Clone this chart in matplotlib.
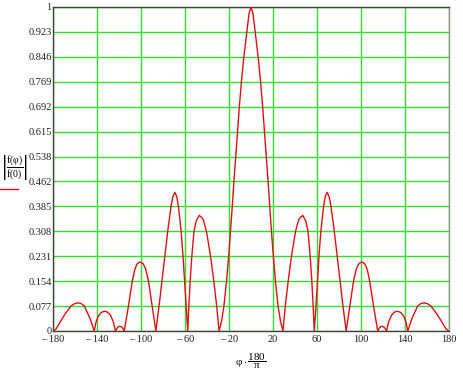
import matplotlib.pyplot as plt

plt.rcParams['font.family'] = ['Liberation Serif', 'DejaVu Serif']
plt.rcParams['mathtext.fontset'] = 'custom'
plt.rcParams['mathtext.rm'] = 'Liberation Serif'
plt.rcParams['mathtext.it'] = 'Liberation Serif:italic'

# angle in degrees (phi*180/pi) and normalised pattern |f(phi)/f(0)|
phi_deg = [
    -180.0, -177.5, -173.5, -168.5, -163.6, -160.5, -157.5, -154.5, -151.5, -146.5,
    -142.5, -141.0, -139.0, -136.2, -133.4, -130.8, -128.0, -125.3,
    -123.2, -121.3, -119.3, -117.0,
    -115.2, -111.4, -107.9, -105.8, -103.6, -101.0, -98.3, -95.8, -93.2, -89.8,
    -86.5, -83.6, -81.0, -78.4, -75.7, -72.7, -71.0, -69.2, -67.5, -66.0, -63.5, -61.8, -60.4, -59.1,
    -57.5, -56.5, -55.3, -53.8, -51.8, -49.8, -47.0, -43.5, -40.5, -36.8, -33.8, -31.2,
    -29.0, -26.8, -24.6, -22.2, -20.3, -18.6, -17.0, -15.5, -13.9, -12.3, -10.6, -8.7, -6.5, -3.8, -1.8,
    0.0,
    1.8, 3.8, 6.5, 8.7, 10.6, 12.3, 13.9, 15.5, 17.0, 18.6, 20.3, 22.2, 24.6, 26.8,
    29.0, 31.2, 33.8, 36.8, 40.5, 43.5, 47.0, 49.8, 51.8, 53.8, 55.3, 56.5,
    57.5, 59.1, 60.4, 61.8, 63.5, 66.0, 67.5, 69.2, 71.0, 72.7, 75.7, 78.4, 81.0, 83.6,
    86.5, 89.8, 93.2, 95.8, 98.3, 101.0, 103.6, 105.8, 107.9, 111.4,
    115.2, 117.0, 119.3, 121.3,
    123.2, 125.3, 128.0, 130.8, 133.4, 136.2, 139.0, 141.0,
    142.5, 146.5, 151.5, 154.5, 157.5, 160.5, 163.6, 168.5, 173.5, 177.5, 180.0,
]
f_norm = [
    0.0, 0.005, 0.028, 0.055, 0.077, 0.084, 0.087, 0.085, 0.077, 0.04,
    0.0, 0.026, 0.045, 0.057, 0.061, 0.059, 0.05, 0.03,
    0.0, 0.011, 0.015, 0.011,
    0.0, 0.077, 0.154, 0.188, 0.207, 0.213, 0.209, 0.192, 0.154, 0.077,
    0.0, 0.077, 0.154, 0.231, 0.308, 0.385, 0.415, 0.428, 0.415, 0.385, 0.308, 0.231, 0.154, 0.077,
    0.0, 0.077, 0.154, 0.231, 0.308, 0.340, 0.357, 0.345, 0.308, 0.231, 0.154, 0.077,
    0.0, 0.03, 0.077, 0.154, 0.231, 0.308, 0.385, 0.462, 0.538, 0.615, 0.692, 0.769, 0.846, 0.923, 0.98,
    1.0,
    0.98, 0.923, 0.846, 0.769, 0.692, 0.615, 0.538, 0.462, 0.385, 0.308, 0.231, 0.154, 0.077, 0.03,
    0.0, 0.077, 0.154, 0.231, 0.308, 0.345, 0.357, 0.340, 0.308, 0.231, 0.154, 0.077,
    0.0, 0.077, 0.154, 0.231, 0.308, 0.385, 0.415, 0.428, 0.415, 0.385, 0.308, 0.231, 0.154, 0.077,
    0.0, 0.077, 0.154, 0.192, 0.209, 0.213, 0.207, 0.188, 0.154, 0.077,
    0.0, 0.011, 0.015, 0.011,
    0.0, 0.03, 0.05, 0.059, 0.061, 0.057, 0.045, 0.026,
    0.0, 0.04, 0.077, 0.085, 0.087, 0.084, 0.077, 0.055, 0.028, 0.005, 0.0,
]

x_ticks = [-180, -140, -100, -60, -20, 20, 60, 100, 140, 180]
x_labels = ['\u2013 180', '\u2013 140', '\u2013 100', '\u2013 60', '\u2013 20',
            '20', '60', '100', '140', '180']
y_ticks = [k / 13 for k in range(14)]
y_labels = ['0', '0.077', '0.154', '0.231', '0.308', '0.385', '0.462',
            '0.538', '0.615', '0.692', '0.769', '0.846', '0.923', '1']

fig = plt.figure(figsize=(4.63, 3.75), dpi=100)
ax = fig.add_axes([53 / 463, 1 - 331 / 375, 396 / 463, 324 / 375])

ax.plot(phi_deg, f_norm, color='#e01010', lw=1.0, zorder=3)

ax.set_xlim(-180, 180)
ax.set_ylim(0, 1)
ax.set_xticks(x_ticks)
ax.set_xticklabels(x_labels)
ax.set_yticks(y_ticks)
ax.set_yticklabels(y_labels)
ax.tick_params(length=0, labelsize=7.5, colors='#202020')
ax.tick_params(axis='y', pad=1)
ax.tick_params(axis='x', pad=3)
ax.grid(True, color='#30e030', lw=1.0, zorder=1)
ax.set_axisbelow(True)

for side in ['left', 'bottom', 'top']:
    ax.spines[side].set_color('#404040')
ax.spines['right'].set_color('#909090')
for s in ax.spines.values():
    s.set_linewidth(1.0)

# x axis label: phi * 180 / pi
fig.text(251 / 463, 1 - 361 / 375, r'$\mathrm{\varphi\cdot}\dfrac{\mathrm{180}}{\mathrm{\pi}}$',
         ha='center', va='center', fontsize=8)

# y axis label |f(phi)/f(0)| with the trace marker under it
fig.text(15 / 463, 1 - 168 / 375, r'$\left|\dfrac{\mathrm{f(\varphi)}}{\mathrm{f(0)}}\right|$',
         ha='center', va='center', fontsize=7)
fig.add_artist(plt.Line2D([0, 18 / 463], [1 - 189 / 375, 1 - 189 / 375],
                          color='#e01010', lw=1.0))

fig.savefig('out.png', dpi=100)
plt.close(fig)
